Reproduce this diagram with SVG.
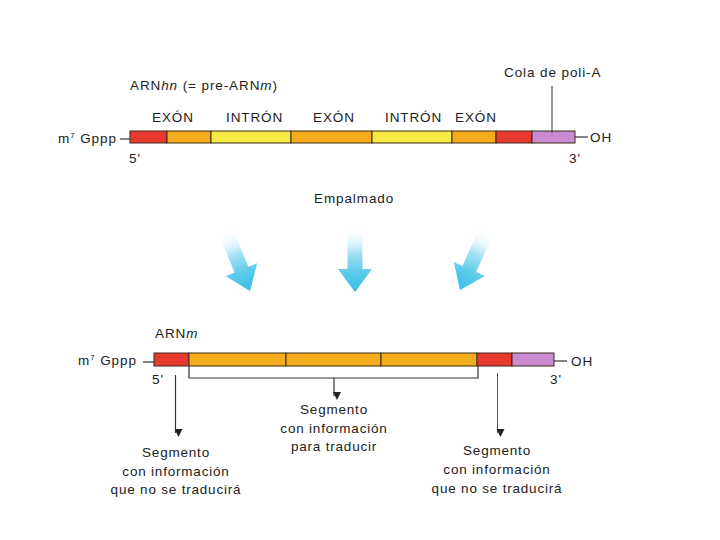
<svg xmlns="http://www.w3.org/2000/svg" width="720" height="540" viewBox="0 0 720 540">
<style>
text{font-family:"Liberation Sans",Arial,sans-serif;fill:#222;font-size:13.5px;letter-spacing:0.8px}
.lbl{font-size:13.5px;letter-spacing:0.9px}
.seg{stroke:#3a2a1a;stroke-width:1}
.red{fill:#e8392e}.org{fill:#f3ad1c}.yel{fill:#f7ea45}.pur{fill:#c98ad0}
.ln{stroke:#333;stroke-width:1.2;fill:none}
.c{text-anchor:middle}
</style>
<defs>
<linearGradient id="blue" x1="0" y1="0" x2="0" y2="1">
<stop offset="0" stop-color="#ffffff" stop-opacity="0"/>
<stop offset="0.4" stop-color="#a6e1f4"/>
<stop offset="0.7" stop-color="#5ccbec"/>
<stop offset="1" stop-color="#36bde6"/>
</linearGradient>
<marker id="ah" markerWidth="8" markerHeight="8" refX="4" refY="7" orient="auto" markerUnits="userSpaceOnUse" viewBox="0 0 8 8">
<path d="M0,0 L8,0 L4,8 Z" fill="#222" transform="rotate(-90 4 4)"/>
</marker>
<path id="barrow" d="M-7.5,-65 L7.5,-65 L7.5,-23 L17,-23 L0,0 L-17,-23 L-7.5,-23 Z" fill="url(#blue)"/>
</defs>
<rect width="720" height="540" fill="#fff"/>

<g id="pre-mrna">
<text x="130" y="90" class="lbl">ARN<tspan font-style="italic">hn</tspan> (= pre-ARN<tspan font-style="italic">m</tspan>)</text>
<text x="58" y="143" class="lbl">m<tspan font-size="8" dy="-5">7</tspan><tspan dy="5"> Gppp</tspan></text>
<line x1="120" y1="139" x2="130" y2="139" class="ln"/>
<rect x="130" y="131" width="37" height="12" class="red seg"/>
<rect x="167" y="131" width="44" height="12" class="org seg"/>
<rect x="211" y="131" width="80" height="12" class="yel seg"/>
<rect x="291" y="131" width="81" height="12" class="org seg"/>
<rect x="372" y="131" width="80" height="12" class="yel seg"/>
<rect x="452" y="131" width="44" height="12" class="org seg"/>
<rect x="496" y="131" width="36" height="12" class="red seg"/>
<rect x="532" y="131" width="43" height="12" class="pur seg"/>
<line x1="575" y1="137" x2="588" y2="137" class="ln"/>
<text x="590" y="142" class="lbl">OH</text>
<text x="129" y="163" class="lbl">5'</text>
<text x="569" y="163" class="lbl">3'</text>
<text x="152" y="122" class="lbl">EXÓN</text>
<text x="226" y="122" class="lbl">INTRÓN</text>
<text x="313" y="122" class="lbl">EXÓN</text>
<text x="385" y="122" class="lbl">INTRÓN</text>
<text x="455" y="122" class="lbl">EXÓN</text>
<text x="504" y="77" class="lbl">Cola de poli-A</text>
<line x1="552" y1="86" x2="552" y2="133" stroke="#333" stroke-width="1"/>
</g>

<g id="splicing">
<text x="314" y="203" class="lbl">Empalmado</text>
<use href="#barrow" transform="translate(250,291) rotate(-22)"/>
<use href="#barrow" transform="translate(355,292)"/>
<use href="#barrow" transform="translate(460,290) rotate(24)"/>
</g>

<g id="mrna">
<text x="155" y="338" class="lbl">ARN<tspan font-style="italic">m</tspan></text>
<text x="78" y="365" class="lbl">m<tspan font-size="8" dy="-5">7</tspan><tspan dy="5"> Gppp</tspan></text>
<line x1="143" y1="362" x2="154" y2="362" class="ln"/>
<rect x="154" y="353" width="35" height="13" class="red seg"/>
<rect x="189" y="353" width="97" height="13" class="org seg"/>
<rect x="286" y="353" width="95" height="13" class="org seg"/>
<rect x="381" y="353" width="96" height="13" class="org seg"/>
<rect x="477" y="353" width="35" height="13" class="red seg"/>
<rect x="512" y="353" width="42" height="13" class="pur seg"/>
<line x1="554" y1="361" x2="567" y2="361" class="ln"/>
<text x="571" y="366" class="lbl">OH</text>
<text x="152" y="384" class="lbl">5'</text>
<text x="550" y="384" class="lbl">3'</text>
</g>

<g id="connectors">
<path d="M189,366 V378 H478 V366" class="ln"/>
<line x1="334" y1="378" x2="334" y2="396" class="ln" marker-end="url(#ah)"/>
<line x1="175.5" y1="375" x2="175.5" y2="433" class="ln" marker-end="url(#ah)"/>
<line x1="497.5" y1="373" x2="497.5" y2="433" stroke="#555" stroke-width="1" marker-end="url(#ah)"/>
</g>

<g id="label-center">
<text x="334" y="414" class="c">Segmento</text>
<text x="334" y="433" class="c">con información</text>
<text x="334" y="451" class="c">para traducir</text>
</g>
<g id="label-left">
<text x="176" y="457" class="c">Segmento</text>
<text x="176" y="476" class="c">con información</text>
<text x="176" y="494" class="c">que no se traducirá</text>
</g>
<g id="label-right">
<text x="497" y="455" class="c">Segmento</text>
<text x="497" y="474" class="c">con información</text>
<text x="497" y="493" class="c">que no se traducirá</text>
</g>
</svg>
